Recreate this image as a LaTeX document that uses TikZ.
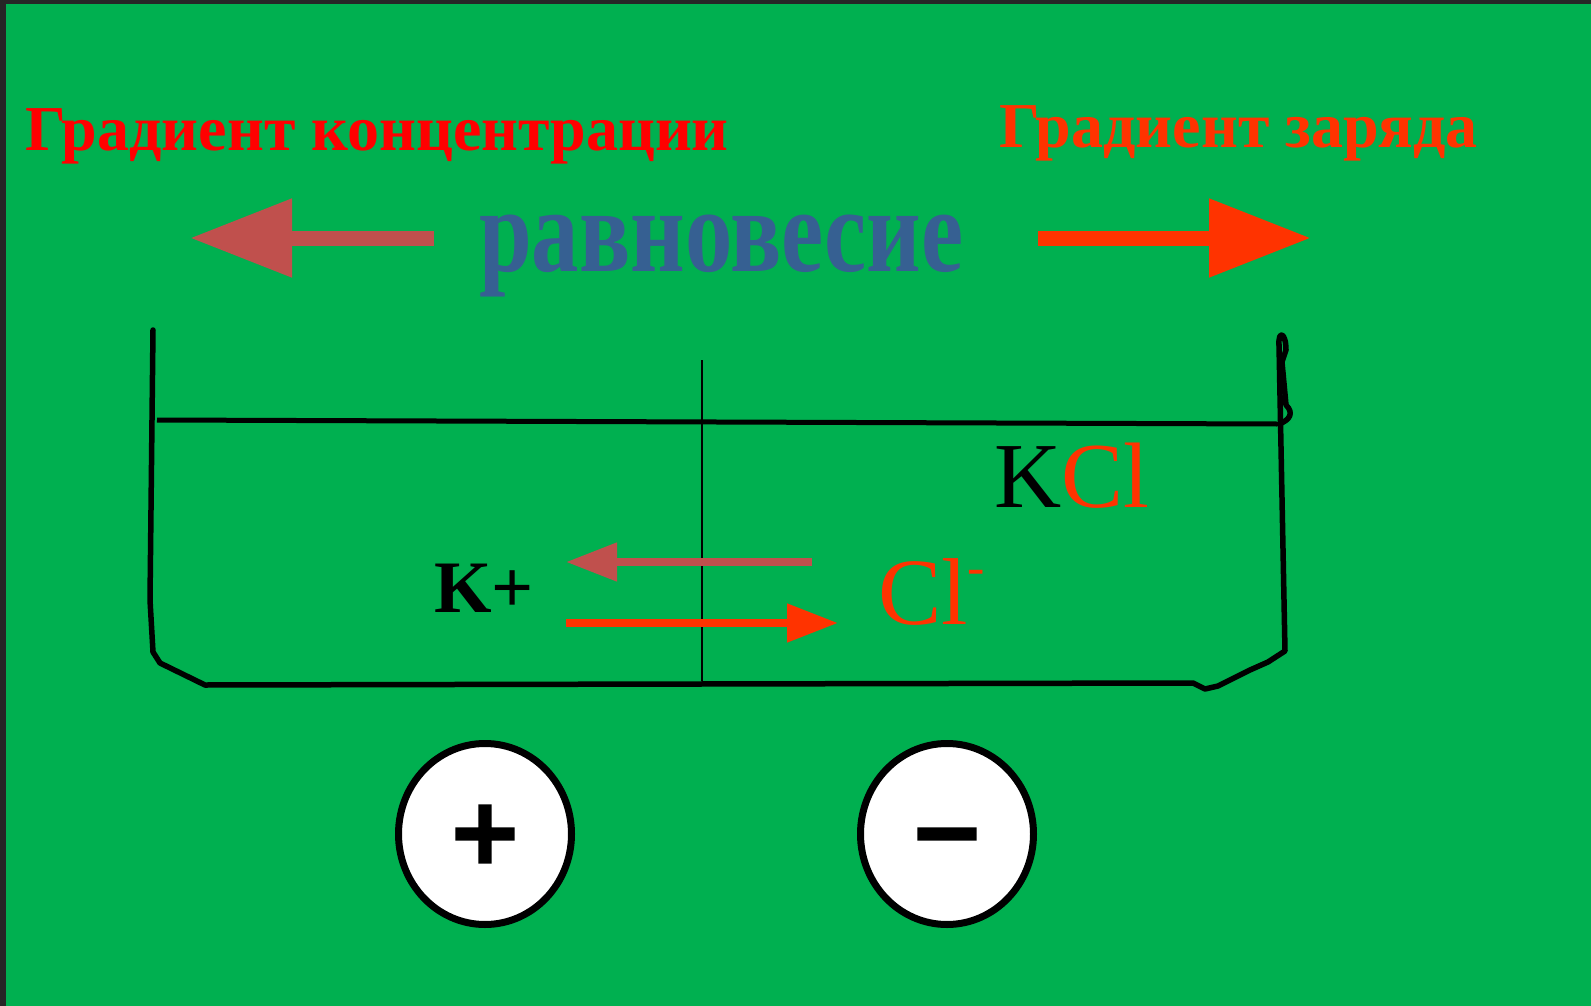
\documentclass[tikz,border=0pt]{standalone}
\usepackage{fontspec}
\setmainfont{Liberation Serif}
\newfontfamily\signfont[FakeBold=3]{DejaVu Sans Bold}
\definecolor{field}{HTML}{00B050}
\definecolor{frame}{HTML}{262626}
\definecolor{conc}{HTML}{C0504D}
\definecolor{charge}{HTML}{FF3300}
\definecolor{eqblue}{HTML}{366092}
\usetikzlibrary{shapes.geometric, arrows.meta}

\begin{document}
\begin{tikzpicture}[x=1pt, y=-1pt,
    title/.style={anchor=base west, inner sep=0pt,
        font=\bfseries\fontsize{64}{64}\selectfont},
    ion/.style={anchor=base west, inner sep=0pt},
    bigarr/.style={line width=15pt, -{Triangle[length=102pt, width=75pt]}},
    smallarr/.style={line width=8pt, -{Triangle[length=51pt, width=37pt]}},
    wall/.style={line width=5.5pt, line join=round, line cap=round},
    pole/.style={ellipse, draw=black, line width=7pt, fill=white,
        minimum width=173pt, minimum height=181pt, inner sep=0pt,
        font=\signfont\fontsize{90}{90}\selectfont}
]
\fill[field] (0,0) rectangle (1591,1006);
\fill[frame] (0,0) rectangle (6,1006);
\fill[frame] (0,0) rectangle (1591,4);
\useasboundingbox (0,0) rectangle (1591,1006);

\node[title, text=red] (concT) at (25,150) {Градиент концентрации};
\node[title, text=charge] (chargeT) at (999,148) {Градиент заряда};
\node[anchor=base west, inner sep=0pt, text=eqblue,
    font=\bfseries\fontsize{120}{120}\selectfont] (eq) at (479,271)
    {\scalebox{0.79}[1]{равновесие}};

\coordinate (concA) at (434,238);
\coordinate (concB) at (190,238);
\coordinate (chargeA) at (1038,238);
\coordinate (chargeB) at (1311,238);
\draw[bigarr, conc] (concA) -- (concB);
\draw[bigarr, charge] (chargeA) -- (chargeB);

\draw[wall] (153,330) -- (150,600) -- (153,652) -- (160,663) -- (205,685)
    -- (1193,683) -- (1205,689) -- (1218,686) -- (1250,670) -- (1268,662)
    -- (1285,651) -- (1279,345);
\draw[wall] (1279,345) .. controls (1278,330) and (1286,332) .. (1286,350)
    -- (1282,362) -- (1286,405) .. controls (1294,413) and (1290,420) .. (1279,424);
\draw[line width=5pt] (157,420) -- (1277,424);
\draw[line width=2pt] (702,360) -- (702,681);

\node[ion, font=\fontsize{93}{93}\selectfont] (kcl) at (994,507) {K\textcolor{charge}{Cl}};
\node[ion, font=\bfseries\fontsize{74}{74}\selectfont] (kplus) at (434,612) {K+};
\node[ion, text=charge, font=\fontsize{95}{95}\selectfont] (cl) at (878,624)
    {Cl\raisebox{40pt}{\fontsize{52}{52}\selectfont -}};

\coordinate (backA) at (812,562);
\coordinate (backB) at (566,562);
\coordinate (fwdA) at (566,623);
\coordinate (fwdB) at (838,623);
\draw[smallarr, conc] (backA) -- (backB);
\draw[smallarr, charge] (fwdA) -- (fwdB);

\node[pole] (pos) at (485,834) {\vphantom{+}+};
\node[pole] (neg) at (947,834) {\vphantom{+}−};
\end{tikzpicture}
\end{document}
